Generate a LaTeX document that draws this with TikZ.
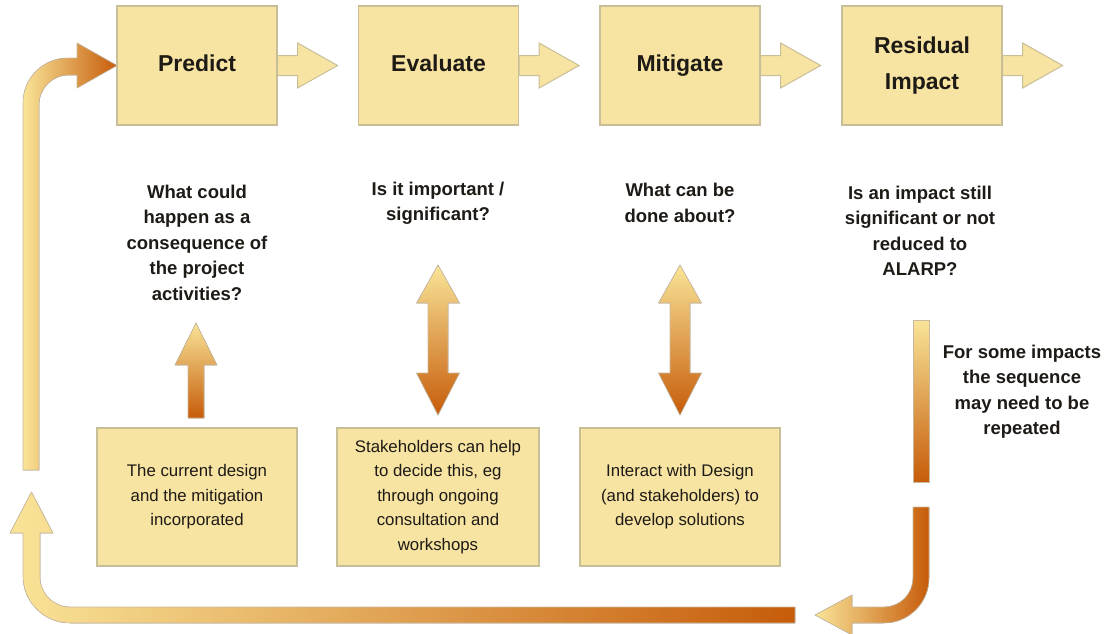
\documentclass[tikz,border=0pt]{standalone}
\usepackage{fontspec}
\setmainfont{Liberation Sans}
\usetikzlibrary{calc}
\definecolor{boxfill}{RGB}{247,228,162}
\definecolor{boxline}{RGB}{200,190,152}
\definecolor{lt}{RGB}{249,228,152}
\definecolor{dk}{RGB}{198,92,10}
\definecolor{txt}{RGB}{30,26,22}
\definecolor{arrline}{RGB}{200,185,160}
\tikzset{
  stagebox/.style={draw=boxline, line width=1.2pt, fill=boxfill, minimum width=160pt,
    minimum height=119pt, inner sep=0pt, align=center, text=txt,
    font=\fontsize{23}{36}\selectfont\bfseries},
  notebox/.style={draw=boxline, line width=1.2pt, fill=boxfill, minimum height=138pt,
    inner sep=0pt, align=center, text=txt, font=\fontsize{16.8}{24.5}\selectfont},
  question/.style={align=center, text=txt, inner sep=0pt,
    font=\fontsize{18.5}{25.5}\selectfont\bfseries},
  flatarrow/.style={fill=boxfill, draw=boxline, line width=1pt, line join=miter},
  vgrad/.style={top color=lt, bottom color=dk, draw=arrline, line width=0.6pt},
  hgrad/.style={left color=lt, right color=dk, draw=arrline, line width=0.6pt}
}
\newcommand{\flatright}[1]{%
  \draw[flatarrow] (#1.east) ++(0,10) -- ++(20,0) -- ++(0,12.5) -- ++(40,-22.5)
    -- ++(-40,-22.5) -- ++(0,12.5) -- ++(-20,0) -- cycle;}
\newcommand{\dblarrow}[1]{%
  \fill[vgrad] (#1-10,-373) -- (#1-10,-303) -- (#1-21.5,-303) -- (#1,-265)
    -- (#1+21.5,-303) -- (#1+10,-303) -- (#1+10,-373) -- (#1+21.5,-373)
    -- (#1,-415) -- (#1-21.5,-373) -- cycle;}
\begin{document}
\begin{tikzpicture}[x=1pt,y=1pt]
\useasboundingbox (0,0) rectangle (1106,-633);

% top stage boxes
\node[stagebox] (predict) at (197,-65.5) {\vphantom{g}Predict};
\node[stagebox] (evaluate) at (438.5,-65.5) {\vphantom{g}Evaluate};
\node[stagebox] (mitigate) at (680,-65.5) {Mitigate};
\node[stagebox] (residual) at (922,-65.5) {Residual\\Impact};

\flatright{predict}
\flatright{evaluate}
\flatright{mitigate}
\flatright{residual}

% questions
\node[question] (q1) at (197,-242.5) {What could\\happen as a\\consequence of\\the project\\activities?};
\node[question] (q2) at (438,-203) {Is it important /\\significant?};
\node[question] (q3) at (680,-203) {What can be\\done about?};
\node[question] (q4) at (920,-231) {Is an impact still\\significant or not\\reduced to\\ALARP?};
\node[question] (q5) at (1022,-391.5) {For some impacts\\the sequence\\may need to be\\repeated};

% bottom boxes
\node[notebox, minimum width=200pt] (n1) at (197,-497) {The current design\\and the mitigation\\incorporated};
\node[notebox, minimum width=202pt] (n2) at (438,-497) {Stakeholders can help\\to decide this, eg\\through ongoing\\consultation and\\workshops};
\node[notebox, minimum width=200pt] (n3) at (680,-497) {Interact with Design\\(and stakeholders) to\\develop solutions};

% up arrow under Predict
\fill[vgrad] (188,-418) -- (188,-365) -- (175,-365) -- (196,-323) -- (217,-365)
  -- (204,-365) -- (204,-418) -- cycle;

% double arrows
\dblarrow{438}
\dblarrow{680}

% top-left curved arrow into Predict
\fill[hgrad] (23,-470) -- (23,-103) .. controls (23,-78) and (43,-58) .. (68,-58)
  -- (77,-58) -- (77,-43) -- (117,-65.5) -- (77,-88) -- (77,-75) -- (69,-75)
  .. controls (52.4,-75) and (39,-88.4) .. (39,-105) -- (39,-470) -- cycle;

% bottom loop arrow
\fill[hgrad] (10,-533) -- (31.5,-492) -- (53,-533) -- (40,-533) -- (40,-577)
  .. controls (40,-593.5) and (53.5,-607) .. (70,-607) -- (795,-607) -- (795,-623)
  -- (70,-623) .. controls (44,-623) and (23,-602) .. (23,-576) -- (23,-533) -- cycle;

% right gradient bar
\fill[vgrad] (913,-320) rectangle (929,-482);

% right return arrow
\fill[hgrad] (913,-507) -- (929,-507) -- (929,-578) .. controls (929,-602.8) and (908.8,-623) .. (884,-623)
  -- (852,-623) -- (852,-635) -- (815,-615) -- (852,-595) -- (852,-607) -- (884,-607)
  .. controls (900,-607) and (913,-594) .. (913,-578) -- cycle;
\end{tikzpicture}
\end{document}
